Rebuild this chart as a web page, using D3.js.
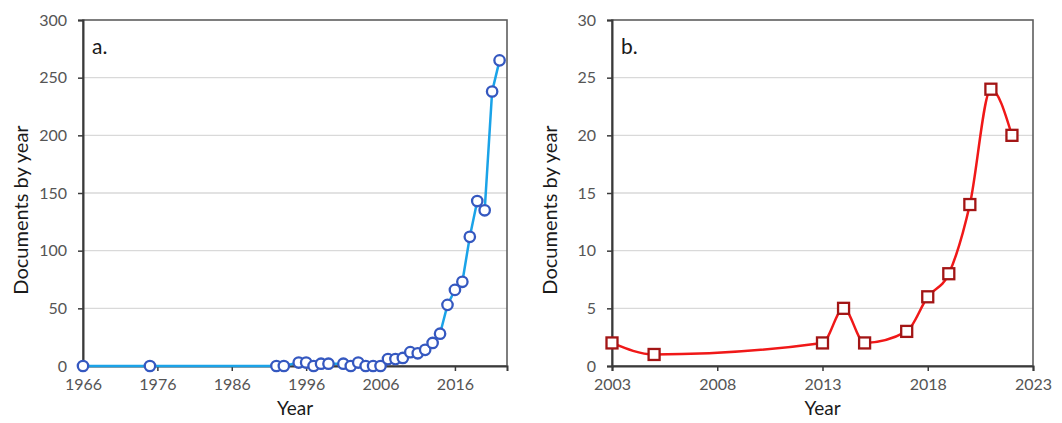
<!DOCTYPE html>
<html>
<head>
<meta charset="utf-8">
<script src="https://cdn.jsdelivr.net/npm/d3@7"></script>
<style>
  body { margin: 0; background: #fff; }
  svg { font-family: Lato, "Open Sans", sans-serif; }
</style>
</head>
<body>
<div id="chart"></div>
<script>
// panel a data
var yearsA = [1966, 1975, 1992, 1993, 1995, 1996, 1997, 1998, 1999, 2001, 2002, 2003, 2004, 2005, 2006,
              2007, 2008, 2009, 2010, 2011, 2012, 2013, 2014, 2015, 2016, 2017, 2018, 2019, 2020, 2021, 2022]
var docsA  = [0, 0, 0, 0, 3, 3, 0, 2, 2, 2, 0, 3, 0, 0, 0,
              6, 6, 7, 12, 11, 14, 20, 28, 53, 66, 73, 112, 143, 135, 238, 265]
var xTicksA = [1966, 1976, 1986, 1996, 2006, 2016]
var yTicksA = [0, 50, 100, 150, 200, 250, 300]

// panel b data
var yearsB = [2003, 2005, 2013, 2014, 2015, 2017, 2018, 2019, 2020, 2021, 2022]
var docsB  = [2, 1, 2, 5, 2, 3, 6, 8, 14, 24, 20]
var xTicksB = [2003, 2008, 2013, 2018, 2023]
var yTicksB = [0, 5, 10, 15, 20, 25, 30]

var W = 1062, H = 423

var svg = d3.select("#chart")
    .append("svg")
    .attr("width", W)
    .attr("height", H)

var drawPanel = function(p)
{
    var x = d3.scaleLinear().domain(p.xDomain).range([p.left, p.right])
    var y = d3.scaleLinear().domain(p.yDomain).range([p.bottom, p.top])
    var g = svg.append("g")

    // gridlines
    g.selectAll(".grid")
        .data(p.yTicks.filter(function(d){ return d > p.yDomain[0] && d < p.yDomain[1] }))
        .enter()
        .append("line")
        .attr("x1", p.left).attr("x2", p.right)
        .attr("y1", function(d){ return y(d) })
        .attr("y2", function(d){ return y(d) })
        .attr("stroke", "#d9d9d9")
        .attr("stroke-width", 1.3)

    // frame
    g.append("rect")
        .attr("x", p.left).attr("y", p.top)
        .attr("width", p.right - p.left)
        .attr("height", p.bottom - p.top)
        .attr("fill", "none")
        .attr("stroke", "#5e5e5e")
        .attr("stroke-width", 1.6)

    // axes
    var xAxis = g.append("g")
        .attr("transform", "translate(0," + p.bottom + ")")
        .call(d3.axisBottom(x).tickValues(p.xTicks).tickFormat(d3.format("d")).tickSize(5).tickPadding(8))
    var yAxis = g.append("g")
        .attr("transform", "translate(" + p.left + ",0)")
        .call(d3.axisLeft(y).tickValues(p.yTicks).tickSize(5).tickPadding(11))
    ;[xAxis, yAxis].forEach(function(a){
        a.select(".domain").attr("stroke", "#3a3a3a").attr("stroke-width", 2)
        a.selectAll(".tick line").attr("stroke", "#3a3a3a").attr("stroke-width", 1.5)
        a.selectAll(".tick text")
            .attr("fill", "#555")
            .style("font-size", "16px")
            .style("font-family", "Lato, sans-serif")
    })

    // axis titles
    g.append("text")
        .attr("x", (p.left + p.right) / 2)
        .attr("y", 415)
        .attr("text-anchor", "middle")
        .attr("fill", "#1a1a1a")
        .style("font-size", "19px")
        .text("Year")
    g.append("text")
        .attr("transform", "translate(" + (p.left - 62) + "," + ((p.top + p.bottom) / 2 + 17) + ") rotate(-90)")
        .attr("text-anchor", "middle")
        .attr("dy", "0.35em")
        .attr("fill", "#1a1a1a")
        .style("font-size", "20px")
        .text("Documents by year")

    // panel label
    g.append("text")
        .attr("x", p.left + 9)
        .attr("y", 54)
        .attr("fill", "#1a1a1a")
        .style("font-size", "21px")
        .text(p.label)

    var data = p.years.map(function(d, i){ return {year: d, value: p.values[i]} })

    var line = d3.line()
        .x(function(d){ return x(d.year) })
        .y(function(d){ return y(d.value) })
        .curve(p.curve)
    g.append("path")
        .datum(data)
        .attr("d", line)
        .attr("fill", "none")
        .attr("stroke", p.lineColor)
        .attr("stroke-width", 2.5)

    if (p.marker == "circle")
    {
        g.selectAll(".pt")
            .data(data)
            .enter()
            .append("circle")
            .attr("cx", function(d){ return x(d.year) })
            .attr("cy", function(d){ return y(d.value) })
            .attr("r", 5.2)
            .attr("fill", "#fff")
            .attr("stroke", p.markerColor)
            .attr("stroke-width", 2.3)
    }
    else
    {
        g.selectAll(".pt")
            .data(data)
            .enter()
            .append("rect")
            .attr("x", function(d){ return x(d.year) - 5.5 })
            .attr("y", function(d){ return y(d.value) - 5.5 })
            .attr("width", 11)
            .attr("height", 11)
            .attr("fill", "#fff")
            .attr("stroke", p.markerColor)
            .attr("stroke-width", 2.3)
    }
}

drawPanel({
    label: "a.",
    years: yearsA, values: docsA,
    xDomain: [1966, 2023], yDomain: [0, 300],
    xTicks: xTicksA, yTicks: yTicksA,
    left: 83, right: 507, top: 20, bottom: 366,
    curve: d3.curveLinear,
    lineColor: "#1aa3e8", markerColor: "#3558c0",
    marker: "circle"
})

drawPanel({
    label: "b.",
    years: yearsB, values: docsB,
    xDomain: [2003, 2023], yDomain: [0, 30],
    xTicks: xTicksB, yTicks: yTicksB,
    left: 612, right: 1033, top: 20, bottom: 366,
    curve: d3.curveMonotoneX,
    lineColor: "#f01818", markerColor: "#a31515",
    marker: "square"
})
</script>
</body>
</html>
